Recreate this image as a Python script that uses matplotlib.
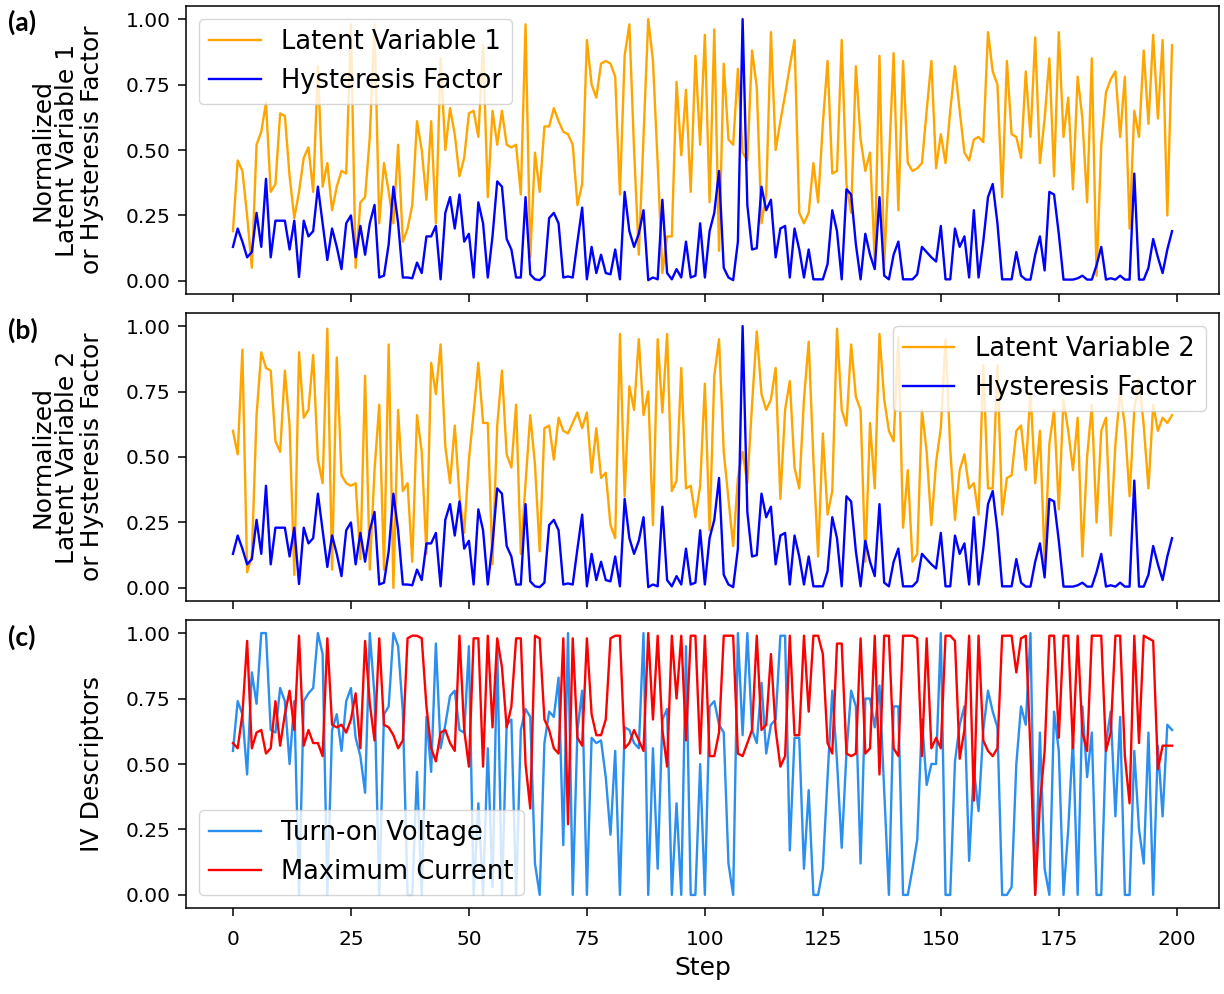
import matplotlib
matplotlib.use("Agg")
import matplotlib.pyplot as plt
import numpy as np

hyst = [0.13,0.20,0.15,0.09,0.11,0.26,0.13,0.39,0.09,0.23,
        0.23,0.23,0.12,0.23,0.015,0.23,0.17,0.19,0.36,0.22,
        0.08,0.20,0.13,0.045,0.22,0.25,0.09,0.21,0.10,0.22,
        0.29,0.013,0.02,0.14,0.36,0.22,0.013,0.013,0.01,0.07,
        0.03,0.17,0.17,0.21,0.006,0.26,0.32,0.20,0.33,0.15,
        0.18,0.013,0.30,0.22,0.013,0.17,0.38,0.36,0.16,0.12,
        0.013,0.013,0.32,0.025,0.006,0.003,0.02,0.24,0.26,0.22,
        0.013,0.017,0.013,0.15,0.28,0.006,0.13,0.03,0.10,0.03,
        0.025,0.12,0.006,0.34,0.19,0.13,0.18,0.27,0.003,0.013,
        0.006,0.31,0.03,0.006,0.045,0.013,0.15,0.013,0.02,0.22,
        0.013,0.19,0.26,0.42,0.05,0.013,0.003,0.15,1.0,0.29,
        0.12,0.125,0.36,0.27,0.31,0.09,0.20,0.21,0.013,0.20,
        0.12,0.013,0.12,0.006,0.006,0.006,0.064,0.27,0.19,0.006,
        0.35,0.33,0.14,0.006,0.18,0.10,0.045,0.32,0.02,0.006,
        0.10,0.15,0.006,0.006,0.006,0.025,0.13,0.11,0.09,0.074,
        0.21,0.006,0.006,0.20,0.13,0.17,0.013,0.27,0.013,0.15,
        0.32,0.37,0.22,0.006,0.006,0.006,0.11,0.02,0.005,0.005,
        0.10,0.17,0.04,0.34,0.33,0.18,0.005,0.005,0.005,0.01,
        0.02,0.005,0.005,0.06,0.13,0.005,0.01,0.005,0.02,0.005,
        0.005,0.41,0.005,0.005,0.05,0.16,0.09,0.03,0.12,0.19]

lat1 = [0.19,0.46,0.42,0.25,0.05,0.52,0.57,0.68,0.34,0.37,
        0.64,0.63,0.40,0.24,0.34,0.47,0.51,0.34,0.82,0.36,
        0.45,0.27,0.36,0.42,0.41,0.98,0.05,0.30,0.32,0.55,
        0.98,0.22,0.45,0.34,0.22,0.52,0.15,0.20,0.29,0.61,
        0.50,0.31,0.61,0.22,0.85,0.50,0.66,0.56,0.40,0.47,
        0.64,0.65,0.55,0.90,0.32,0.65,0.52,0.65,0.52,0.51,
        0.52,0.33,0.98,0.09,0.49,0.34,0.59,0.59,0.66,0.61,
        0.57,0.56,0.52,0.29,0.37,0.92,0.75,0.70,0.83,0.84,
        0.83,0.78,0.33,0.86,0.98,0.50,0.10,0.55,1.0,0.84,
        0.45,0.03,0.17,0.17,0.76,0.48,0.73,0.34,0.86,0.52,
        0.94,0.30,0.96,0.115,0.83,0.54,0.52,0.81,0.49,0.46,
        0.88,0.74,0.22,0.33,0.95,0.50,0.61,0.71,0.82,0.92,
        0.26,0.22,0.26,0.45,0.30,0.60,0.84,0.41,0.42,0.92,
        0.37,0.26,0.82,0.54,0.42,0.49,0.08,0.86,0.06,0.45,
        0.87,0.27,0.84,0.45,0.42,0.43,0.45,0.65,0.84,0.43,
        0.56,0.45,0.65,0.82,0.65,0.49,0.46,0.54,0.55,0.53,
        0.95,0.80,0.75,0.32,0.84,0.56,0.55,0.47,0.80,0.55,
        0.93,0.45,0.62,0.85,0.40,0.95,0.55,0.70,0.35,0.78,
        0.62,0.30,0.85,0.02,0.52,0.72,0.77,0.80,0.55,0.78,
        0.20,0.65,0.55,0.88,0.60,0.94,0.62,0.92,0.25,0.90]

lat2 = [0.60,0.51,0.91,0.06,0.12,0.66,0.90,0.84,0.83,0.56,
        0.52,0.83,0.62,0.05,0.90,0.65,0.68,0.89,0.49,0.40,
        0.99,0.07,0.88,0.43,0.40,0.39,0.40,0.11,0.81,0.07,
        0.45,0.70,0.07,0.93,0.0,0.68,0.37,0.40,0.10,0.66,
        0.52,0.13,0.86,0.74,0.93,0.54,0.40,0.62,0.35,0.21,
        0.49,0.67,0.86,0.63,0.63,0.09,0.62,0.83,0.51,0.46,
        0.70,0.13,0.40,0.66,0.47,0.14,0.61,0.62,0.49,0.65,
        0.60,0.59,0.63,0.67,0.61,0.67,0.44,0.61,0.42,0.44,
        0.24,0.19,0.97,0.35,0.77,0.68,0.95,0.66,0.75,0.24,
        0.95,0.67,0.97,0.37,0.41,0.84,0.38,0.39,0.27,0.39,
        0.78,0.22,0.81,0.95,0.52,0.34,0.16,0.42,0.52,0.40,
        0.70,0.98,0.74,0.68,0.72,0.84,0.34,0.68,0.79,0.46,
        0.38,0.72,0.94,0.49,0.12,0.59,0.28,0.37,0.99,0.68,
        0.62,0.93,0.73,0.68,0.10,0.63,0.38,0.97,0.72,0.60,
        0.56,0.96,0.23,0.45,0.10,0.13,0.68,0.52,0.24,0.48,
        0.61,0.95,0.53,0.26,0.45,0.51,0.38,0.40,0.28,0.85,
        0.38,0.38,0.85,0.28,0.42,0.43,0.60,0.62,0.45,0.75,
        0.40,0.60,0.10,0.55,0.68,0.30,0.72,0.60,0.45,0.65,
        0.12,0.50,0.70,0.25,0.60,0.65,0.20,0.55,0.75,0.62,
        0.35,0.68,0.80,0.62,0.38,0.70,0.60,0.65,0.63,0.66]

turn_on = [0.55,0.74,0.69,0.46,0.85,0.73,1.0,1.0,0.63,0.62,
           0.79,0.74,0.50,0.74,0.0,0.74,0.77,0.79,1.0,0.92,
           0.0,0.63,0.69,0.55,0.74,0.79,0.60,0.53,0.39,1.0,
           0.76,0.0,0.69,0.72,1.0,0.95,0.70,0.0,0.0,0.47,
           0.0,0.68,0.47,0.96,0.56,0.65,0.76,0.78,0.63,0.62,
           0.95,0.0,0.35,0.0,0.56,0.03,0.95,0.0,0.65,0.67,
           0.0,0.63,0.71,0.68,0.12,0.0,0.58,0.70,0.68,0.83,
           0.19,1.0,0.0,0.63,0.78,0.0,0.60,0.58,0.59,0.45,
           0.23,0.55,0.0,0.64,0.63,0.58,0.56,1.0,0.0,0.56,
           0.10,0.67,0.71,0.0,0.35,0.0,0.95,0.0,0.0,0.50,
           0.0,0.72,0.74,0.65,0.62,0.12,0.0,1.0,0.61,1.0,
           0.63,0.58,0.81,0.54,0.65,0.67,0.99,0.99,0.17,0.60,
           0.60,0.10,0.40,0.0,0.0,0.10,0.45,0.78,0.51,0.18,
           0.54,0.78,0.72,0.12,0.75,0.75,0.64,0.80,0.40,0.0,
           0.72,0.72,0.0,0.0,0.10,0.21,0.67,0.42,0.50,0.50,
           1.0,0.0,0.0,0.51,0.65,0.72,0.13,0.48,0.32,0.63,
           0.78,0.70,0.64,0.0,0.0,0.03,0.50,0.72,0.65,1.0,
           0.0,0.62,0.10,0.0,0.70,0.55,0.0,0.25,0.60,0.0,
           0.72,0.45,0.62,0.0,0.0,0.58,0.70,0.30,0.68,0.0,
           0.0,0.55,0.25,0.12,0.62,0.0,0.57,0.30,0.65,0.63]

max_cur = [0.58,0.56,0.69,0.97,0.56,0.62,0.63,0.54,0.56,0.74,
           0.57,0.69,0.78,0.63,0.99,0.57,0.63,0.58,0.58,0.53,
           0.98,0.65,0.64,0.65,0.62,0.67,0.77,0.56,0.97,0.73,
           0.59,0.98,0.65,0.64,0.61,0.56,0.59,0.98,0.99,0.99,
           0.98,0.72,0.56,0.51,0.62,0.63,0.58,0.55,0.99,0.63,
           0.49,0.98,0.98,0.49,0.99,0.64,0.98,0.87,0.64,0.72,
           0.98,0.98,0.50,0.33,0.99,0.98,0.67,0.63,0.56,0.54,
           0.98,0.27,0.98,0.60,0.57,0.98,0.69,0.61,0.61,0.67,
           0.98,0.99,0.99,0.56,0.58,0.63,0.59,0.55,1.0,0.67,
           0.99,0.63,0.49,0.99,0.75,0.99,0.59,0.99,0.99,0.54,
           0.99,0.53,0.53,0.62,0.99,0.99,0.99,0.54,0.53,0.58,
           0.63,0.99,0.63,0.65,0.92,0.63,0.49,0.53,0.99,0.61,
           0.61,0.99,0.70,0.99,0.99,0.92,0.58,0.54,0.96,0.96,
           0.54,0.53,0.54,0.98,0.54,0.56,0.99,0.46,0.99,0.99,
           0.56,0.53,0.99,0.99,0.99,0.98,0.53,0.98,0.56,0.60,
           0.56,0.99,0.99,0.97,0.52,0.63,0.99,0.36,0.99,0.59,
           0.55,0.53,0.56,0.99,0.99,0.99,0.85,0.98,0.99,0.55,
           0.0,0.35,0.55,0.99,0.99,0.60,0.99,0.99,0.56,0.99,
           0.62,0.55,0.99,0.99,0.99,0.55,0.62,0.99,0.99,0.53,
           0.35,0.99,0.58,0.99,0.98,0.97,0.48,0.57,0.57,0.57]

x_ticks = [0, 25, 50, 75, 100, 125, 150, 175, 200]
y_ticks = [0, 0.25, 0.5, 0.75, 1.0]

W, H = 1224, 994
fig = plt.figure(figsize=(W / 100, H / 100), dpi=100)

def ax_rect(l, t, r, b):
    return [l / W, 1 - b / H, (r - l) / W, (b - t) / H]

L, R = 186, 1219
ax1 = fig.add_axes(ax_rect(L, 6, R, 294))
ax2 = fig.add_axes(ax_rect(L, 313, R, 601))
ax3 = fig.add_axes(ax_rect(L, 620, R, 908))

lw = 1.7
tick_fs = 14.5
lab_fs = 18
leg_fs = 18.5

ax1.plot(np.arange(len(lat1)), lat1, color='orange', lw=lw, label='Latent Variable 1')
ax1.plot(np.arange(len(hyst)), hyst, color='blue', lw=lw, label='Hysteresis Factor')
ax2.plot(np.arange(len(lat2)), lat2, color='orange', lw=lw, label='Latent Variable 2')
ax2.plot(np.arange(len(hyst)), hyst, color='blue', lw=lw, label='Hysteresis Factor')
ax3.plot(np.arange(len(turn_on)), turn_on, color='#2a8ff0', lw=lw, label='Turn-on Voltage')
ax3.plot(np.arange(len(max_cur)), max_cur, color='red', lw=lw, label='Maximum Current')

for ax in (ax1, ax2, ax3):
    ax.margins(x=0.05, y=0.05)
    ax.set_ylim(-0.05, 1.05)
    ax.set_xticks(x_ticks)
    ax.set_yticks(y_ticks)
    ax.tick_params(labelsize=tick_fs, length=6, width=1.1, pad=5)
    for s in ax.spines.values():
        s.set_linewidth(1.1)
ax1.tick_params(labelbottom=False)
ax2.tick_params(labelbottom=False)
ax3.tick_params(axis='x', pad=10)
ax3.set_xlabel('Step', fontsize=lab_fs, labelpad=5)

def ylabel_lines(ax, lines, xs):
    t, b = ax.get_position().y1, ax.get_position().y0
    yc = (t + b) / 2
    for txt, xp in zip(lines, xs):
        fig.text(xp / W, yc, txt, rotation=90, fontsize=lab_fs, ha='center', va='center')

ylabel_lines(ax1, ['Normalized', 'Latent Variable 1', 'or Hysteresis Factor'], [42, 67, 92])
ylabel_lines(ax2, ['Normalized', 'Latent Variable 2', 'or Hysteresis Factor'], [42, 67, 92])
ylabel_lines(ax3, ['IV Descriptors'], [92])

ax1.legend(loc='upper left', fontsize=leg_fs, framealpha=0.8)
ax2.legend(loc='upper right', fontsize=leg_fs, framealpha=0.8)
ax3.legend(loc='lower left', fontsize=leg_fs, framealpha=0.8)

for lab, y in (('(a)', 22), ('(b)', 330), ('(c)', 637)):
    fig.text(8 / W, 1 - y / H, lab, fontsize=19, fontweight='bold', family='Lato', va='center', ha='left')

fig.savefig('out.png', dpi=100)
